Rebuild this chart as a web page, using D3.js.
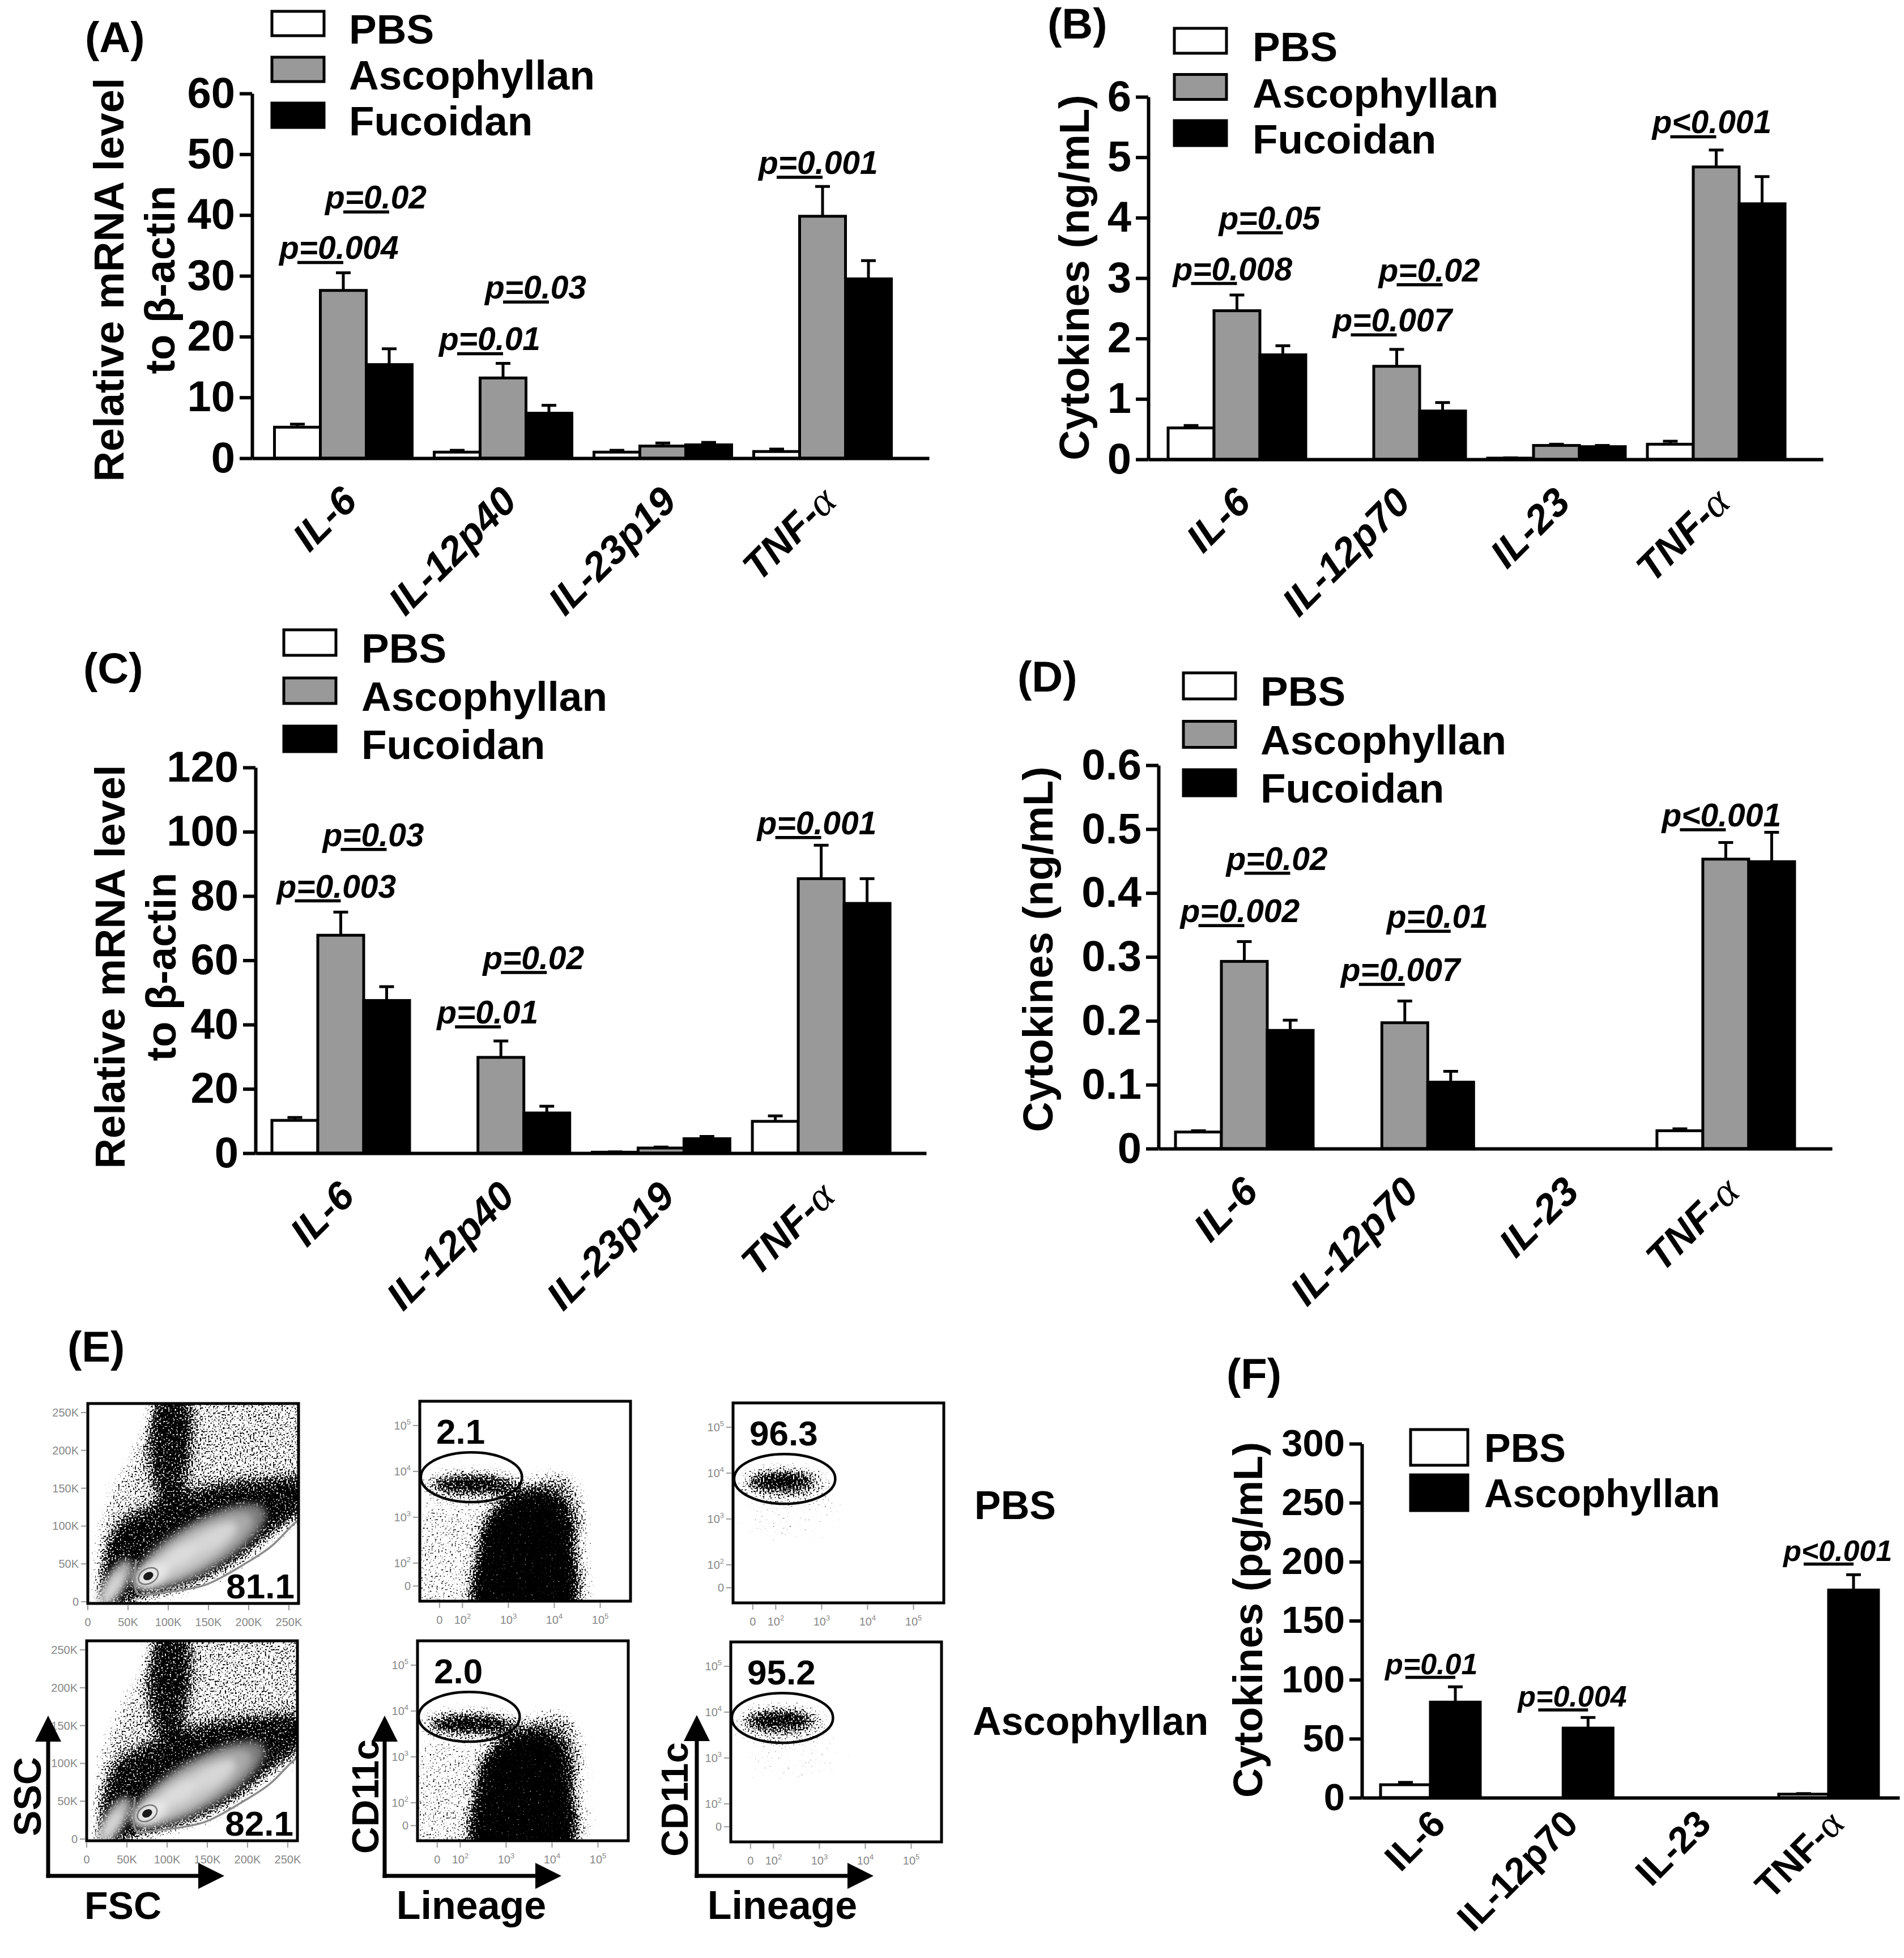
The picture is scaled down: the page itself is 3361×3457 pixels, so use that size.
<!DOCTYPE html>
<html><head><meta charset="utf-8">
<script src="https://cdn.jsdelivr.net/npm/d3@7/dist/d3.min.js"></script>
<style>body{margin:0;background:#fff}svg{display:block}</style>
</head><body>
<script>
// ================= DATA =================
const catsMRNA = ["IL-6","IL-12p40","IL-23p19","TNF-α"];
const catsCyto = ["IL-6","IL-12p70","IL-23","TNF-α"];
const groups3 = ["PBS","Ascophyllan","Fucoidan"];
const groups2 = ["PBS","Ascophyllan"];

// (A) mRNA (relative to beta-actin)
const aPBS=[5.1,1.0,1.0,1.1],   aPBSErr=[0.5,0.3,0.3,0.4];
const aAsc=[27.6,13.2,2.0,39.8], aAscErr=[2.9,2.4,0.5,4.9];
const aFuc=[15.4,7.4,2.2,29.5],  aFucErr=[2.6,1.3,0.4,3.0];
const aTicks=[0,10,20,30,40,50,60];
const aP=[[0,0,1,32.2,"p=0.004"],[0,1,2,40.5,"p=0.02"],[1,0,1,17.2,"p=0.01"],[1,1,2,25.7,"p=0.03"],[3,0,1,46.2,"p=0.001"]];

// (B) cytokines ng/mL
const bPBS=[0.52,0,0.02,0.25],  bPBSErr=[0.04,0,0.005,0.05];
const bAsc=[2.46,1.54,0.23,4.84], bAscErr=[0.26,0.28,0.02,0.28];
const bFuc=[1.73,0.80,0.21,4.23], bFucErr=[0.15,0.14,0.02,0.45];
const bTicks=[0,1,2,3,4,5,6];
const bP=[[0,0,1,2.91,"p=0.008"],[0,1,2,3.75,"p=0.05"],[1,0,1,2.06,"p=0.007"],[1,1,2,2.89,"p=0.02"],[3,0,1,5.34,"p<0.001"]];

// (C) mRNA
const cPBS=[10.2,0,0.3,9.9],   cPBSErr=[0.9,0,0.1,1.7];
const cAsc=[67.8,29.8,1.6,85.4], cAscErr=[7.2,5.1,0.3,10.4];
const cFuc=[47.5,12.5,4.5,77.7], cFucErr=[4.3,2.1,0.7,7.7];
const cTicks=[0,20,40,60,80,100,120];
const cP=[[0,0,1,78.5,"p=0.003"],[0,1,2,94.5,"p=0.03"],[1,0,1,39.3,"p=0.01"],[1,1,2,56.2,"p=0.02"],[3,0,1,98.2,"p=0.001"]];

// (D) cytokines ng/mL
const dPBS=[0.026,0,0,0.028],  dPBSErr=[0.002,0,0,0.003];
const dAsc=[0.293,0.197,0,0.453], dAscErr=[0.031,0.034,0,0.026];
const dFuc=[0.185,0.104,0,0.449], dFucErr=[0.016,0.017,0,0.046];
const dTicks=[0,0.1,0.2,0.3,0.4,0.5,0.6];
const dP=[[0,0,1,0.349,"p=0.002"],[0,1,2,0.431,"p=0.02"],[1,0,1,0.257,"p=0.007"],[1,1,2,0.34,"p=0.01"],[3,0,1,0.499,"p<0.001"]];

// (F) cytokines pg/mL
const fPBS=[11,0,0,3],   fPBSErr=[2,0,0,0.5];
const fAsc=[81,59,0,176], fAscErr=[13,9,0,13];
const fTicks=[0,50,100,150,200,250,300];
const fP=[[0,0,1,102,"p=0.01"],[1,0,1,74.4,"p=0.004"],[3,0,1,198,"p<0.001"]];

// (E) flow cytometry gate percentages and axis ticks
const flowRows = ["PBS","Ascophyllan"];
const pctScatter = ["81.1","82.1"];
const pctCD11c = ["2.1","2.0"];
const pctPurity = ["96.3","95.2"];
const scatterTicks = [0,50,100,150,200,250];
const scatterTickLabels = ["0","50K","100K","150K","200K","250K"];
const logTicks = [1.5,2,3,4,5];
const logTickLabels = ["0","2","3","4","5"];

// flow density outlines, as fractions of the plot window (x right, y up)
const fscOuter = [[0.06,-0.02],[0.05,0.35],[0.10,0.55],[0.2,0.75],[0.28,0.9],[0.33,1.03],[1.03,1.03],[1.03,0.44],[0.88,0.32],[0.72,0.19],[0.55,0.1],[0.4,0.05],[0.25,0.01],[0.15,-0.02]];
const fscDense = [[0.07,-0.02],[0.08,0.25],[0.15,0.40],[0.28,0.48],[0.45,0.55],[0.65,0.6],[0.85,0.62],[1.03,0.62],[1.03,0.48],[0.9,0.37],[0.75,0.24],[0.58,0.13],[0.42,0.06],[0.25,0.02],[0.15,-0.02]];
const fscColumn = [[0.32,1.03],[0.47,1.03],[0.46,0.6],[0.40,0.5],[0.33,0.55]];
const fscLight = [[0.53,0.28,0.36,0.12,30,"#7a7a7a"],[0.51,0.27,0.31,0.095,30,"#a8a8a8"],[0.48,0.25,0.25,0.07,30,"#c8c8c8"],[0.60,0.33,0.12,0.045,30,"#d6d6d6"],[0.44,0.24,0.1,0.04,30,"#dcdcdc"],[0.30,0.14,0.09,0.055,30,"#e6e6e6"],[0.13,0.10,0.13,0.05,58,"#b0b0b0"],[0.12,0.08,0.08,0.032,58,"#d4d4d4"]];
const fscSpot = [0.287,0.137,0.025,0.018];
const fscGate = [[0.229,0.22],[0.229,0.06],[0.26,0.04],[0.29,0.045],[0.38,0.057],[0.56,0.094],[0.74,0.195],[0.87,0.285],[0.98,0.40],[1.03,0.44]];
const linSparse = [[-0.03,-0.03],[0.0,0.42],[0.03,0.5],[0.15,0.48],[0.3,0.47],[0.45,0.5],[0.55,0.6],[0.7,0.64],[0.78,0.55],[0.8,0.3],[0.8,-0.03]];
const linMid = [[0.3,0.3],[0.35,0.5],[0.5,0.62],[0.68,0.64],[0.76,0.5],[0.76,0.3]];
const linBlob = [[0.27,-0.05],[0.28,0.25],[0.33,0.42],[0.44,0.52],[0.56,0.55],[0.67,0.5],[0.72,0.32],[0.72,-0.05]];
const linCore = [0.25,0.585,0.2,0.04,0];
const linHalo = [0.25,0.58,0.25,0.075,0];
const purCore = [0.23,0.61,0.17,0.045,0];
const purHalo = [0.25,0.59,0.24,0.085,0];
const purSparse = [[0.05,0.4],[0.1,0.52],[0.45,0.52],[0.55,0.45],[0.4,0.33],[0.1,0.3]];
const gateEllipse = [0.245,0.62,0.24,0.118,0];

// ================= RENDER =================
const W=3361, H=3457;
const FONT='"Liberation Sans", Arial, Helvetica, sans-serif';
const SERIF='"Liberation Serif","DejaVu Serif",serif';
const svg=d3.select("body").append("svg").attr("width",W).attr("height",H).attr("viewBox",`0 0 ${W} ${H}`);
svg.append("rect").attr("width",W).attr("height",H).attr("fill","#fff");
const defs=svg.append("defs");

function txt(g,x,y,s,size,o={}){
  const t=g.append("text").attr("x",x).attr("y",y).attr("font-size",size).attr("font-family",FONT)
    .attr("font-weight",o.weight||"bold").attr("text-anchor",o.anchor||"start").attr("fill",o.fill||"#000").text(s);
  if(o.italic) t.attr("font-style","italic");
  if(o.transform) t.attr("transform",o.transform);
  return t;
}

function barPanel(P,cats,vals,errs,names,ticks,fmt,annots){
  const g=svg.append("g");
  const y=d3.scaleLinear().domain([0,P.yMax]).range([P.y0,P.yTop]);
  const L=P.xEnd-P.ax, n=cats.length;
  const pi=1-P.bw/P.step, po=(L/P.step-n+pi)/2, al=(P.s1-P.ax)/(L-P.step*(n-pi));
  const x0=d3.scaleBand().domain(cats).range([P.ax,P.xEnd]).paddingInner(pi).paddingOuter(po).align(al);
  const x1=d3.scaleBand().domain(d3.range(names.length)).range([0,x0.bandwidth()]);
  names.forEach((nm,si)=>{
    g.append("g").selectAll("rect").data(cats).join("rect")
      .attr("x",c=>x0(c)+x1(si)).attr("width",x1.bandwidth())
      .attr("y",(c,i)=>y(vals[si][i])).attr("height",(c,i)=>y(0)-y(vals[si][i]))
      .attr("fill",P.fills[si]).attr("stroke","#000").attr("stroke-width",5);
  });
  names.forEach((nm,si)=>{
    cats.forEach((c,i)=>{
      const e=errs[si][i]; if(!(e>0)) return;
      const cx=x0(c)+x1(si)+x1.bandwidth()/2, yt=y(vals[si][i]+e);
      g.append("line").attr("x1",cx).attr("x2",cx).attr("y1",y(vals[si][i])).attr("y2",yt).attr("stroke","#000").attr("stroke-width",5);
      g.append("line").attr("x1",cx-13).attr("x2",cx+13).attr("y1",yt).attr("y2",yt).attr("stroke","#000").attr("stroke-width",5);
    });
  });
  const ya=g.append("g").attr("transform",`translate(${P.ax},0)`)
    .call(d3.axisLeft(y).tickValues(ticks).tickFormat(fmt).tickSize(22).tickSizeOuter(0).tickPadding(8));
  ya.attr("font-size",P.tickFs).attr("font-family",FONT).attr("font-weight","bold");
  ya.select(".domain").attr("stroke","#000").attr("stroke-width",6);
  ya.selectAll(".tick line").attr("stroke","#000").attr("stroke-width",6);
  ya.selectAll(".tick text").attr("fill","#000");
  const xa=g.append("g").attr("transform",`translate(0,${P.y0})`)
    .call(d3.axisBottom(x0).tickSize(0).tickSizeOuter(0).tickFormat(()=>""));
  xa.select(".domain").attr("stroke","#000").attr("stroke-width",6);
  cats.forEach(c=>{
    const px=x0(c)+x0.bandwidth()/2+P.xl.dx, py=P.y0+P.xl.dy;
    const t=g.append("text").attr("transform",`translate(${px},${py}) rotate(-45)`).attr("text-anchor","end")
      .attr("font-size",P.xl.fs).attr("font-family",FONT).attr("font-weight","bold");
    if(P.xl.italic) t.attr("font-style","italic");
    const parts=c.split("α");
    t.append("tspan").text(parts[0]);
    if(c.includes("α")) t.append("tspan").attr("font-family",SERIF).attr("font-weight","normal")
      .attr("font-style",P.xl.italic?"italic":"normal").attr("font-size",P.xl.fs*1.05).text("α");
  });
  annots.forEach(([gi,sa,sb,v,lab])=>{
    const c=cats[gi];
    const xa1=x0(c)+x1(sa)+x1.bandwidth()/2, xb1=x0(c)+x1(sb)+x1.bandwidth()/2;
    g.append("line").attr("x1",xa1).attr("x2",xb1).attr("y1",y(v)).attr("y2",y(v)).attr("stroke","#000").attr("stroke-width",5.5);
    txt(g,xa1+P.pDx,y(v)+P.pDy,lab,P.pFs,{italic:true});
  });
  names.forEach((nm,i)=>{
    const top=P.lg.top+i*P.lg.step;
    g.append("rect").attr("x",P.lg.x).attr("y",top).attr("width",P.lg.w).attr("height",P.lg.h)
      .attr("fill",P.fills[i]).attr("stroke","#000").attr("stroke-width",5);
    txt(g,P.lg.tx,top+P.lg.tdy,nm,P.lg.fs);
  });
  P.title.lines.forEach((ln,i)=>{
    txt(g,0,0,ln,P.title.fs,{anchor:"middle",transform:`translate(${P.title.bx[i]},${P.title.cy}) rotate(-90)`});
  });
  txt(g,P.label.x,P.label.y,P.label.t,76);
}

const F3=["#ffffff","#999999","#000000"], F2=["#ffffff","#000000"];
const intFmt=d3.format("d");
const base={tickFs:76,pFs:57,pDx:-32,pDy:-6,xl:{dx:28,dy:80,fs:70,italic:true}};

barPanel(Object.assign({},base,{ax:445,xEnd:1640,y0:809,yTop:165,yMax:60,s1:484.5,step:282,bw:243,fills:F3,
  lg:{x:480,top:20,step:81,w:92,h:43,tx:616,tdy:57,fs:73},
  title:{lines:["Relative mRNA level","to β-actin"],bx:[218,308],cy:494,fs:74},
  label:{t:"(A)",x:150,y:92}}),
  catsMRNA,[aPBS,aAsc,aFuc],[aPBSErr,aAscErr,aFucErr],groups3,aTicks,intFmt,aP);

barPanel(Object.assign({},base,{ax:2027,xEnd:3218,y0:811,yTop:171,yMax:6,s1:2062,step:282,bw:243,fills:F3,
  lg:{x:2073,top:50,step:81.5,w:92,h:44,tx:2211,tdy:58,fs:73},
  title:{lines:["Cytokines (ng/mL)"],bx:[1922],cy:490,fs:74},
  label:{t:"(B)",x:1849,y:68}}),
  catsCyto,[bPBS,bAsc,bFuc],[bPBSErr,bAscErr,bFucErr],groups3,bTicks,intFmt,bP);

barPanel(Object.assign({},base,{ax:451,xEnd:1635,y0:2036,yTop:1355,yMax:120,s1:480,step:282.7,bw:243,fills:F3,
  lg:{x:501,top:1112,step:85,w:92,h:45,tx:638,tdy:58,fs:73},
  title:{lines:["Relative mRNA level","to β-actin"],bx:[220,310],cy:1707,fs:74},
  label:{t:"(C)",x:147,y:1206}}),
  catsMRNA,[cPBS,cAsc,cFuc],[cPBSErr,cAscErr,cFucErr],groups3,cTicks,intFmt,cP);

barPanel(Object.assign({},base,{ax:2045,xEnd:3234,y0:2028,yTop:1351,yMax:0.6,s1:2075,step:283.3,bw:243,fills:F3,
  lg:{x:2089,top:1188,step:85.5,w:92,h:46,tx:2225,tdy:58,fs:73},
  title:{lines:["Cytokines (ng/mL)"],bx:[1858],cy:1676,fs:74},
  label:{t:"(D)",x:1796,y:1221}}),
  catsCyto,[dPBS,dAsc,dFuc],[dPBSErr,dAscErr,dFucErr],groups3,dTicks,v=>v===0?"0":d3.format(".1f")(v),dP);

barPanel(Object.assign({},base,{tickFs:67,pFs:52,pDx:-36,pDy:-6,xl:{dx:30,dy:50,fs:66,italic:false},
  ax:2404,xEnd:3353,y0:3174,yTop:2549,yMax:300,s1:2437,step:234.3,bw:176,fills:F2,
  lg:{x:2490,top:2524,step:80,w:101,h:63,tx:2620,tdy:57,fs:70},
  title:{lines:["Cytokines (pg/mL)"],bx:[2228],cy:2860,fs:72},
  label:{t:"(F)",x:2165,y:2452}}),
  catsCyto,[fPBS,fAsc],[fPBSErr,fAscErr],groups2,fTicks,intFmt,fP);

// ---------- (E) flow cytometry ----------
const spk=defs.append("filter").attr("id","speckle").attr("x","-5%").attr("y","-5%").attr("width","110%").attr("height","110%")
  .attr("color-interpolation-filters","sRGB");
spk.append("feGaussianBlur").attr("in","SourceAlpha").attr("stdDeviation",12).attr("result","d");
spk.append("feTurbulence").attr("type","fractalNoise").attr("baseFrequency",0.34).attr("numOctaves",1).attr("seed",4).attr("result","n");
spk.append("feColorMatrix").attr("in","n").attr("type","matrix").attr("values","0 0 0 0 0  0 0 0 0 0  0 0 0 0 0  1.8 0 0 0 -0.4").attr("result","na");
spk.append("feComposite").attr("in","d").attr("in2","na").attr("operator","arithmetic").attr("k1",0).attr("k2",4).attr("k3",-3.6).attr("k4",0);
defs.append("filter").attr("id","soft").attr("x","-20%").attr("y","-20%").attr("width","140%").attr("height","140%")
  .append("feGaussianBlur").attr("stdDeviation",7);

const FW=372, FH=353;
const colX=[[155,153],[741,737],[1294,1290]];
const rowY=[[2478,2897],[2474,2897],[2477,2899]];
let clipN=0;

function flowPlot(bx,by,kind,pct){
  const id="fclip"+(clipN++);
  defs.append("clipPath").attr("id",id).append("rect").attr("x",bx).attr("y",by).attr("width",FW).attr("height",FH);
  const fx=d3.scaleLinear().domain([0,1]).range([bx,bx+FW]);
  const fy=d3.scaleLinear().domain([0,1]).range([by+FH,by]);
  const g=svg.append("g");
  const gc=g.append("g").attr("clip-path",`url(#${id})`);
  const gd=gc.append("g").attr("filter","url(#speckle)");
  const closed=d3.line().x(p=>fx(p[0])).y(p=>fy(p[1])).curve(d3.curveCatmullRomClosed.alpha(0.5));
  const open=d3.line().x(p=>fx(p[0])).y(p=>fy(p[1])).curve(d3.curveCatmullRom.alpha(0.5));
  const ell=(gg,e,fill,op)=>gg.append("ellipse").attr("cx",fx(e[0])).attr("cy",fy(e[1])).attr("rx",e[2]*FW).attr("ry",e[3]*FW)
    .attr("transform",`rotate(${-(e[4]||0)},${fx(e[0])},${fy(e[1])})`).attr("fill",fill).attr("fill-opacity",op);
  const poly=(gg,pts,op)=>gg.append("path").attr("d",closed(pts)).attr("fill","#000").attr("fill-opacity",op);
  if(kind==="scatter"){
    poly(gd,fscOuter,0.4); poly(gd,fscDense,0.72); poly(gd,fscColumn,0.7);
    const gl=gc.append("g").attr("filter","url(#soft)");
    fscLight.forEach(e=>ell(gl,e,e[5],1));
    ell(gc,[fscSpot[0],fscSpot[1],0.05,0.035,30],"none",1).attr("stroke","#777").attr("stroke-width",2.5);
    ell(gc,[fscSpot[0],fscSpot[1],fscSpot[2],fscSpot[3],30],"#1a1a1a",1);
    gc.append("path").attr("d",open(fscGate)).attr("fill","none").attr("stroke","#8c8c8c").attr("stroke-width",3.5);
  } else if(kind==="lineage"){
    poly(gd,linSparse,0.3); poly(gd,linMid,0.35); poly(gd,linBlob,1.0); ell(gd,linHalo,"#000",0.4); ell(gd,linCore,"#000",0.9);
  } else {
    poly(gd,purSparse,0.12); ell(gd,purHalo,"#000",0.32); ell(gd,purCore,"#000",0.9);
  }
  if(kind!=="scatter"){
    ell(g,gateEllipse,"none",1).attr("stroke","#000").attr("stroke-width",4.5);
  }
  g.append("rect").attr("x",bx).attr("y",by).attr("width",FW).attr("height",FH).attr("fill","none").attr("stroke","#000").attr("stroke-width",5);
  let sx,sy,tv;
  if(kind==="scatter"){ sx=d3.scaleLinear([0,262],[bx,bx+FW]); sy=d3.scaleLinear([0,262],[by+FH-3,by]); tv=scatterTicks; }
  else { sx=d3.scaleLinear([1.07,5.66],[bx,bx+FW]); sy=d3.scaleLinear([1.17,5.53],[by+FH,by]); tv=logTicks; }
  tv.forEach((v,i)=>{
    g.append("line").attr("x1",sx(v)).attr("x2",sx(v)).attr("y1",by+FH+3).attr("y2",by+FH+12).attr("stroke","#999").attr("stroke-width",2);
    g.append("line").attr("x1",bx-12).attr("x2",bx-3).attr("y1",sy(v)).attr("y2",sy(v)).attr("stroke","#999").attr("stroke-width",2);
    const mk=(tt)=>{
      if(kind==="scatter"){ tt.text(scatterTickLabels[i]); }
      else if(i===0){ tt.text("0"); }
      else { tt.append("tspan").text("10"); tt.append("tspan").attr("dy",-9).attr("font-size",13).text(logTickLabels[i]); }
    };
    mk(g.append("text").attr("x",sx(v)).attr("y",by+FH+40).attr("text-anchor","middle").attr("font-size",20).attr("font-family",FONT).attr("fill","#888"));
    mk(g.append("text").attr("x",bx-16).attr("y",sy(v)+7).attr("text-anchor","end").attr("font-size",20).attr("font-family",FONT).attr("fill","#888"));
  });
  if(kind==="scatter") txt(g,bx+FW-7,by+FH-9,pct,62,{anchor:"end"});
  else txt(g,bx+29,by+75,pct,62);
}

[0,1].forEach(r=>{
  flowPlot(colX[0][r],rowY[0][r],"scatter",pctScatter[r]);
  flowPlot(colX[1][r],rowY[1][r],"lineage",pctCD11c[r]);
  flowPlot(colX[2][r],rowY[2][r],"purity",pctPurity[r]);
});

const eg=svg.append("g");
txt(eg,119,2404,"(E)",76);
txt(eg,1720,2682,flowRows[0],70);
txt(eg,1717,3063,flowRows[1],70);
const arrows=[[85,3312,3029,396],[679,3312,3029,991],[1230,3312,3028,1542]];
arrows.forEach(([x,yb,yt,xt])=>{
  eg.append("line").attr("x1",x).attr("x2",x).attr("y1",yb+3.5).attr("y2",yt+40).attr("stroke","#000").attr("stroke-width",7);
  eg.append("line").attr("x1",x-3.5).attr("x2",xt-40).attr("y1",yb).attr("y2",yb).attr("stroke","#000").attr("stroke-width",7);
  eg.append("path").attr("d",`M${x-23},${yt+46}L${x+23},${yt+46}L${x},${yt}Z`).attr("fill","#000");
  eg.append("path").attr("d",`M${xt-46},${yb-23}L${xt-46},${yb+23}L${xt},${yb}Z`).attr("fill","#000");
});
txt(eg,0,0,"SSC",68,{anchor:"middle",transform:"translate(72,3172) rotate(-90)"});
txt(eg,217,3388,"FSC",68,{anchor:"middle"});
txt(eg,0,0,"CD11c",66,{anchor:"middle",transform:"translate(668,3172) rotate(-90)"});
txt(eg,832,3388,"Lineage",70,{anchor:"middle"});
txt(eg,0,0,"CD11c",66,{anchor:"middle",transform:"translate(1214,3177) rotate(-90)"});
txt(eg,1381,3388,"Lineage",70,{anchor:"middle"});
</script>
</body></html>
